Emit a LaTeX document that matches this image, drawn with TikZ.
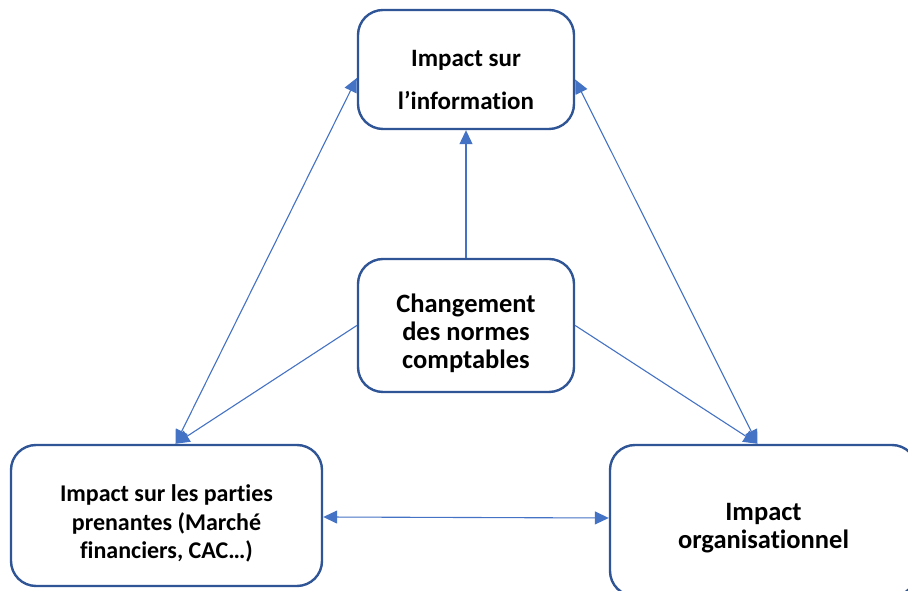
\documentclass[tikz,border=0pt]{standalone}
\usepackage{fontspec}
\setmainfont{Carlito}[Ligatures=NoCommon]
\usetikzlibrary{arrows.meta,positioning}

\definecolor{boxblue}{HTML}{2F5597}
\definecolor{arrowblue}{HTML}{4472C4}

\tikzset{
  bloc/.style={draw=boxblue, line width=2.4pt, rounded corners=25pt, fill=white},
  txt/.style={align=center, inner sep=0pt},
  fl/.style={draw=arrowblue, line width=1.1pt, -{Triangle[length=14pt,width=13pt]}},
  dfl/.style={fl, {Triangle[length=14pt,width=13pt]}-{Triangle[length=14pt,width=13pt]}},
}

\begin{document}
\begin{tikzpicture}[x=1pt,y=1pt]
\useasboundingbox (0,0) rectangle (908,591);
\clip (0,0) rectangle (908,591);

% les quatre blocs
\node[bloc, minimum width=216pt, minimum height=119pt] (info) at (466,521.5) {};
\node[bloc, minimum width=216pt, minimum height=133pt] (chg) at (466,265.5) {};
\node[bloc, minimum width=311pt, minimum height=141pt] (bl) at (166.5,75.5) {};
\node[bloc, minimum width=307pt, minimum height=151pt] (br) at (763.5,70.5) {};

\node[txt, font=\bfseries\fontsize{25}{43}\selectfont] (info-t) at ([yshift=-10pt]info.center) {Impact sur\\l’information};
\node[txt, font=\bfseries\fontsize{26.5}{28}\selectfont] (chg-t) at ([yshift=-8pt]chg.center) {Changement\\des normes\\comptables};
\node[txt, font=\bfseries\fontsize{24}{28.5}\selectfont] (bl-t) at ([yshift=-8pt]bl.center) {Impact sur les parties\\prenantes (Marché\\financiers, CAC…)};
\node[txt, font=\bfseries\fontsize{26.5}{28}\selectfont] (br-t) at ([yshift=-8pt]br.center) {Impact\\organisationnel};

% fleches
\draw[fl] (chg.north) -- (info.south);
\draw[dfl] ([yshift=-8.5pt]info.west) -- ([xshift=9pt]bl.north);
\draw[fl] (chg.west) -- ([xshift=9pt]bl.north);
\draw[dfl] ([yshift=-10pt]info.east) -- ([xshift=-6pt]br.north);
\draw[fl] (chg.east) -- ([xshift=-6pt]br.north);
\draw[dfl] ([yshift=-1.5pt]bl.east) -- ([yshift=2.5pt]br.west);
\end{tikzpicture}
\end{document}
